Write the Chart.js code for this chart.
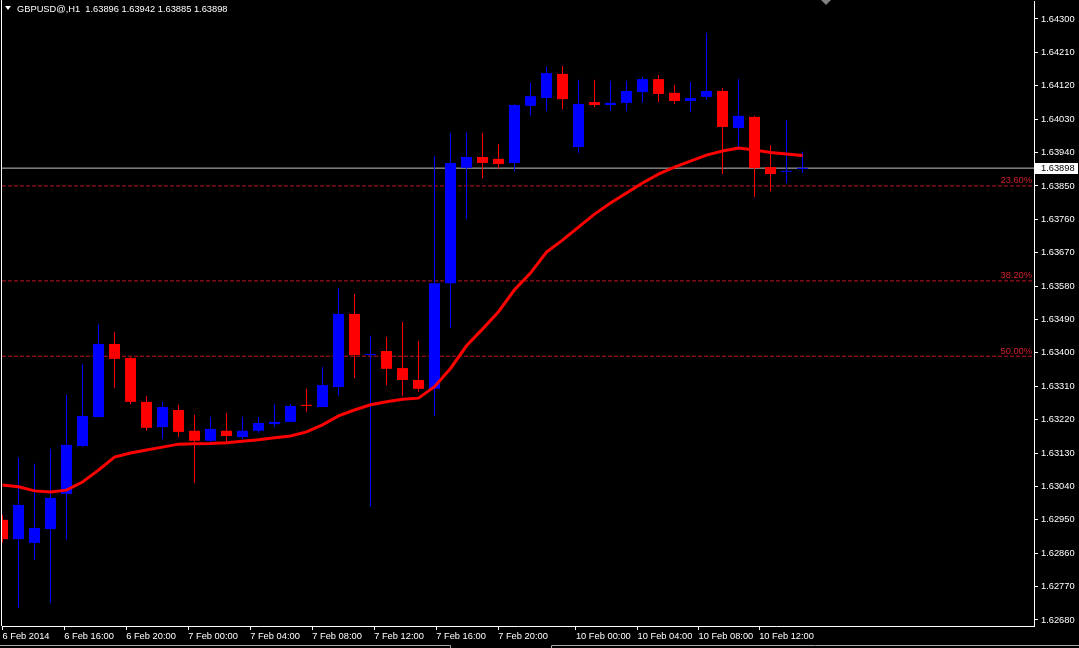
<!DOCTYPE html>
<html>
<head>
<meta charset="utf-8">
<title>GBPUSD@,H1</title>
<script src="https://cdn.jsdelivr.net/npm/chart.js@4.4.1/dist/chart.umd.min.js"></script>
<style>
  html, body { margin: 0; padding: 0; background: #000; overflow: hidden; }
</style>
</head>
<body>
<canvas id="chart" width="1079" height="648"></canvas>
<script>
// H1 candles, 6 Feb 2014 12:00 .. 10 Feb 2014 14:00
var opens = [1.62950, 1.62898, 1.62888, 1.62925, 1.63020, 1.63149, 1.63227, 1.63424, 1.63386, 1.63268,
  1.63200, 1.63246, 1.63190, 1.63163, 1.63190, 1.63173, 1.63190, 1.63208, 1.63214, 1.63260,
  1.63254, 1.63308, 1.63505, 1.63394, 1.63405, 1.63359, 1.63327, 1.63303, 1.63588, 1.63899,
  1.63928, 1.63923, 1.63912, 1.64066, 1.64087, 1.64152, 1.63955, 1.64076, 1.64068, 1.64074,
  1.64103, 1.64138, 1.64101, 1.64079, 1.64090, 1.64106, 1.64006, 1.64036, 1.63901, 1.63888, 1.63896];
var highs = [1.62963, 1.63119, 1.63101, 1.63141, 1.63287, 1.63370, 1.63478, 1.63456, 1.63389, 1.63284,
  1.63268, 1.63260, 1.63233, 1.63227, 1.63238, 1.63227, 1.63227, 1.63262, 1.63262, 1.63303,
  1.63362, 1.63575, 1.63559, 1.63446, 1.63443, 1.63483, 1.63432, 1.63931, 1.63993, 1.63995,
  1.63993, 1.63963, 1.64071, 1.64128, 1.64171, 1.64173, 1.64136, 1.64136, 1.64133, 1.64133,
  1.64144, 1.64149, 1.64122, 1.64130, 1.64262, 1.64114, 1.64138, 1.64039, 1.63960, 1.64028, 1.63942];
var lows = [1.62888, 1.62712, 1.62842, 1.62726, 1.62896, 1.63146, 1.63227, 1.63305, 1.63262, 1.63190,
  1.63168, 1.63173, 1.63049, 1.63160, 1.63157, 1.63168, 1.63184, 1.63200, 1.63214, 1.63241,
  1.63254, 1.63284, 1.63332, 1.62985, 1.63313, 1.63284, 1.63295, 1.63230, 1.63467, 1.63761,
  1.63871, 1.63896, 1.63890, 1.64039, 1.64052, 1.64057, 1.63939, 1.64063, 1.64052, 1.64052,
  1.64074, 1.64076, 1.64071, 1.64049, 1.64082, 1.63882, 1.63947, 1.63820, 1.63836, 1.63858, 1.63885];
var closes = [1.62898, 1.62990, 1.62928, 1.63009, 1.63152, 1.63230, 1.63424, 1.63384, 1.63268, 1.63198,
  1.63254, 1.63187, 1.63163, 1.63195, 1.63176, 1.63190, 1.63211, 1.63214, 1.63257, 1.63257,
  1.63313, 1.63505, 1.63394, 1.63397, 1.63357, 1.63327, 1.63303, 1.63588, 1.63912, 1.63928,
  1.63912, 1.63909, 1.64068, 1.64092, 1.64154, 1.64084, 1.64071, 1.64068, 1.64074, 1.64106,
  1.64138, 1.64098, 1.64079, 1.64087, 1.64106, 1.64009, 1.64039, 1.63898, 1.63882, 1.63890, 1.63898];

// moving average (red line)
var maValues = [1.63044, 1.63039, 1.63028, 1.63025, 1.63030, 1.63052, 1.63084, 1.63119, 1.63130, 1.63138,
  1.63146, 1.63154, 1.63155, 1.63156, 1.63158, 1.63162, 1.63166, 1.63171, 1.63176, 1.63187,
  1.63206, 1.63230, 1.63246, 1.63260, 1.63268, 1.63275, 1.63278, 1.63309, 1.63358, 1.63419,
  1.63464, 1.63511, 1.63570, 1.63615, 1.63672, 1.63704, 1.63739, 1.63774, 1.63804, 1.63831,
  1.63858, 1.63882, 1.63901, 1.63917, 1.63933, 1.63944, 1.63952, 1.63947, 1.63940, 1.63936, 1.63932];

var fibLevels = [1.63850, 1.63594, 1.63391];
var fibLabels = ['23.60%', '38.20%', '50.00%'];
var lastPrice = 1.63898;
var titleText = 'GBPUSD@,H1  1.63896 1.63942 1.63885 1.63898';

var yTicks = [1.64300, 1.64210, 1.64120, 1.64030, 1.63940, 1.63850, 1.63760, 1.63670, 1.63580,
  1.63490, 1.63400, 1.63310, 1.63220, 1.63130, 1.63040, 1.62950, 1.62860, 1.62770, 1.62680];
var xTickValues = [0, 3.86, 7.73, 11.61, 15.48, 19.36, 23.23, 27.11, 30.98, 35.84, 39.69, 43.5, 47.29];
var xTickLabels = ['6 Feb 2014', '6 Feb 16:00', '6 Feb 20:00', '7 Feb 00:00', '7 Feb 04:00',
  '7 Feb 08:00', '7 Feb 12:00', '7 Feb 16:00', '7 Feb 20:00', '10 Feb 00:00', '10 Feb 04:00',
  '10 Feb 08:00', '10 Feb 12:00'];

var BULL = '#0000ff';
var BEAR = '#ff0000';
var FONT = { family: 'Liberation Sans', size: 9.3 };
var X_MIN = -0.03125, X_MAX = 64.46875;

var candleColors = opens.map(function (o, i) { return closes[i] >= o ? BULL : BEAR; });
var wickData = highs.map(function (h, i) { return { x: i, y: [lows[i], h] }; });
var bodyData = opens.map(function (o, i) { return { x: i, y: [o, closes[i]] }; });
var maData = maValues.map(function (v, i) { return { x: i, y: v }; });

function levelLine(v) {
  return [{ x: X_MIN, y: v }, { x: X_MAX, y: v }];
}

var fibSets = fibLevels.map(function (v) {
  return {
    type: 'line',
    data: levelLine(v),
    borderColor: '#c01420',
    borderWidth: 1,
    borderDash: [4, 2],
    pointRadius: 0,
    order: 4,
  };
});

// no extra end padding from the tick labels
function noPad(s) {
  s.paddingTop = 0;
  s.paddingBottom = 0;
  s.paddingLeft = 0;
  s.paddingRight = 0;
}

// title, fibo texts, price box and window chrome
var overlay = {
  id: 'overlay',
  afterDraw: function (chart) {
    var ctx = chart.ctx;
    var area = chart.chartArea;
    var y = chart.scales.y;
    ctx.save();
    ctx.font = FONT.size + 'px ' + FONT.family;

    // left frame line
    ctx.strokeStyle = '#ffffff';
    ctx.lineWidth = 1;
    ctx.beginPath();
    ctx.moveTo(1.5, 0);
    ctx.lineTo(1.5, area.bottom);
    ctx.stroke();

    // title
    ctx.fillStyle = '#ffffff';
    ctx.beginPath();
    ctx.moveTo(5, 6);
    ctx.lineTo(11, 6);
    ctx.lineTo(8, 10);
    ctx.closePath();
    ctx.fill();
    ctx.textBaseline = 'middle';
    ctx.textAlign = 'left';
    ctx.fillText(titleText, 17, 9);

    // shift marker
    ctx.fillStyle = '#808080';
    ctx.beginPath();
    ctx.moveTo(821, 0);
    ctx.lineTo(831, 0);
    ctx.lineTo(826, 5);
    ctx.closePath();
    ctx.fill();

    // fibo level texts
    ctx.fillStyle = '#d0202a';
    ctx.textAlign = 'right';
    ctx.textBaseline = 'bottom';
    fibLevels.forEach(function (v, i) {
      ctx.fillText(fibLabels[i], area.right - 2, y.getPixelForValue(v) - 0.5);
    });

    // last price box
    var py = Math.round(y.getPixelForValue(lastPrice));
    ctx.fillStyle = '#ffffff';
    ctx.fillRect(area.right + 1, py - 5, 43, 11);
    ctx.fillStyle = '#000000';
    ctx.textAlign = 'left';
    ctx.textBaseline = 'middle';
    ctx.fillText(lastPrice.toFixed(5), area.right + 7, py + 0.5);

    // bottom window strip
    ctx.strokeStyle = '#a8a8a8';
    ctx.beginPath();
    ctx.moveTo(0, 645.5);
    ctx.lineTo(450.5, 645.5);
    ctx.lineTo(450.5, 648);
    ctx.moveTo(551.5, 648);
    ctx.lineTo(551.5, 645.5);
    ctx.lineTo(1079, 645.5);
    ctx.stroke();
    ctx.restore();
  },
};

new Chart(document.getElementById('chart'), {
  type: 'bar',
  data: {
    datasets: [
      {
        type: 'line',
        data: maData,
        borderColor: '#ff0000',
        borderWidth: 3,
        pointRadius: 0,
        tension: 0,
        order: 0,
      },
      {
        data: bodyData,
        backgroundColor: candleColors,
        barThickness: 11,
        minBarLength: 1,
        grouped: false,
        inflateAmount: 0,
        borderWidth: 0,
        order: 1,
      },
      {
        data: wickData,
        backgroundColor: candleColors,
        barThickness: 1,
        minBarLength: 1,
        grouped: false,
        inflateAmount: 0,
        borderWidth: 0,
        order: 2,
      },
      {
        type: 'line',
        data: levelLine(lastPrice),
        borderColor: '#c0c0c0',
        borderWidth: 1,
        pointRadius: 0,
        order: 3,
      },
    ].concat(fibSets),
  },
  options: {
    responsive: false,
    animation: false,
    events: [],
    layout: { padding: { top: 1, left: 2, right: 0, bottom: 0 } },
    plugins: {
      legend: { display: false },
      tooltip: { enabled: false },
    },
    scales: {
      x: {
        type: 'linear',
        min: X_MIN,
        max: X_MAX,
        offset: false,
        afterFit: function (s) { s.height = 22; noPad(s); },
        afterBuildTicks: function (s) {
          s.ticks = xTickValues.map(function (v) { return { value: v }; });
        },
        ticks: {
          color: '#ffffff',
          font: FONT,
          align: 'start',
          autoSkip: false,
          maxRotation: 0,
          padding: 1,
          callback: function (v, i) { return xTickLabels[i]; },
        },
        grid: { drawOnChartArea: false, offset: false, tickLength: 4, color: '#ffffff' },
        border: { color: '#ffffff' },
      },
      y: {
        position: 'right',
        min: 1.626638,
        max: 1.643485,
        beginAtZero: false,
        afterFit: function (s) { s.width = 45; noPad(s); },
        afterBuildTicks: function (s) {
          s.ticks = yTicks.map(function (v) { return { value: v }; });
        },
        ticks: {
          color: '#ffffff',
          font: FONT,
          padding: 3,
          autoSkip: false,
          callback: function (v) { return v.toFixed(5); },
        },
        grid: { drawOnChartArea: false, tickLength: 4, color: '#ffffff' },
        border: { color: '#ffffff' },
      },
    },
  },
  plugins: [overlay],
});
</script>
</body>
</html>
